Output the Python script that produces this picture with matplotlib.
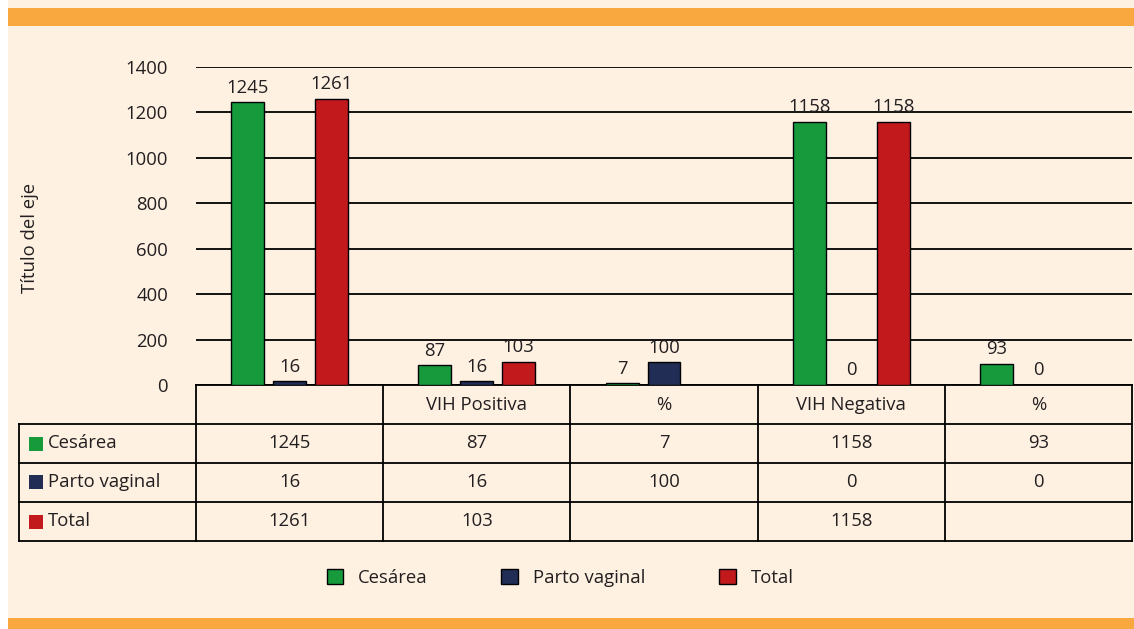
import matplotlib.pyplot as plt
import matplotlib.transforms as mtransforms
from matplotlib.patches import Patch, Rectangle
import numpy as np

plt.rcParams['font.family'] = ['Open Sans', 'DejaVu Sans']
plt.rcParams['font.size'] = 13.3

categories = ['', 'VIH Positiva', '%', 'VIH Negativa', '%']
series_names = ['Cesárea', 'Parto vaginal', 'Total']
cesarea = [1245, 87, 7, 1158, 93]
parto_vaginal = [16, 16, 100, 0, 0]
total = [1261, 103, None, 1158, None]
yticks = [0, 200, 400, 600, 800, 1000, 1200, 1400]

colors = ['#169a3b', '#222d56', '#c1191c']
cream = '#fef1e2'
orange = '#f9a83f'
txt = '#231f20'

W, H = 1134, 629
fig = plt.figure(figsize=(W / 100, H / 100), dpi=100)
fig.patch.set_facecolor('white')

# background and orange bands
fig.add_artist(Rectangle((8 / W, 0), 1, 1, transform=fig.transFigure,
                         facecolor=cream, edgecolor='none', zorder=-10))
fig.add_artist(Rectangle((8 / W, (H - 26) / H), 1, 18 / H, transform=fig.transFigure,
                         facecolor=orange, edgecolor='none', zorder=-9))
fig.add_artist(Rectangle((8 / W, 0), 1, 11 / H, transform=fig.transFigure,
                         facecolor=orange, edgecolor='none', zorder=-9))

ax = fig.add_axes([196 / W, 244 / H, 936 / W, 318 / H])
ax.set_facecolor('none')

series = [cesarea, parto_vaginal, total]
x = np.arange(len(categories))
width = 0.176
step = 0.224
for i, (name, vals, c) in enumerate(zip(series_names, series, colors)):
    h = [np.nan if v is None else v for v in vals]
    bars = ax.bar(x + (i - 1) * step, h, width, color=c, edgecolor='black',
                  linewidth=1.0, label=name, zorder=3)
    ax.bar_label(bars, labels=['' if v is None else str(v) for v in vals],
                 padding=4, color=txt)

ax.set_xlim(-0.5, len(categories) - 0.5)
ax.set_ylim(0, 1400)
ax.set_yticks(yticks)
ax.set_xticks([])
ax.tick_params(axis='y', length=0, pad=20, labelcolor=txt)
ax.yaxis.grid(True, color='black', linewidth=1.3)
ax.set_axisbelow(True)
for s in ax.spines.values():
    s.set_visible(False)

fig.text(30 / W, (H - 238) / H, 'Título del eje', rotation=90,
         ha='center', va='center', color=txt)

# data table under the axis
tr = mtransforms.blended_transform_factory(ax.transData, ax.transAxes)
row_h = 39 / 318
label_left = -0.5 - 177 / 187
right = len(categories) - 0.5
lw = 1.3
rows = [[str(v) for v in cesarea],
        [str(v) for v in parto_vaginal],
        ['' if v is None else str(v) for v in total]]

ax.plot([-0.5, right], [0, 0], color='black', lw=lw, transform=tr, clip_on=False)
for k in range(1, 5):
    ax.plot([label_left, right], [-k * row_h] * 2, color='black', lw=lw,
            transform=tr, clip_on=False)
for b in np.arange(-0.5, right + 0.01, 1):
    ax.plot([b, b], [0, -4 * row_h], color='black', lw=lw, transform=tr, clip_on=False)
ax.plot([label_left, label_left], [-row_h, -4 * row_h], color='black', lw=lw,
        transform=tr, clip_on=False)

for j, cat in enumerate(categories):
    ax.text(j, -0.5 * row_h, cat, ha='center', va='center', color=txt,
            transform=tr, clip_on=False)
for r, (name, vals, c) in enumerate(zip(series_names, rows, colors)):
    yc = -(r + 1.5) * row_h
    sq = 14 / 187
    ax.add_patch(Rectangle((label_left + 10 / 187, yc - 7 / 318), sq, 14 / 318,
                           facecolor=c, edgecolor='none', transform=tr, clip_on=False))
    ax.text(label_left + 29 / 187, yc, name, ha='left', va='center', color=txt,
            transform=tr, clip_on=False)
    for j, v in enumerate(vals):
        ax.text(j, yc, v, ha='center', va='center', color=txt,
                transform=tr, clip_on=False)

handles = [Patch(facecolor=c, edgecolor='black', linewidth=1.0) for c in colors]
fig.legend(handles, series_names, loc='center', bbox_to_anchor=(560 / W, 51 / H),
           ncol=3, frameon=False, handlelength=0.9, handleheight=0.9,
           handletextpad=0.8, columnspacing=4.0, labelcolor=txt)

fig.savefig('out.png', dpi=100, facecolor=fig.get_facecolor())
